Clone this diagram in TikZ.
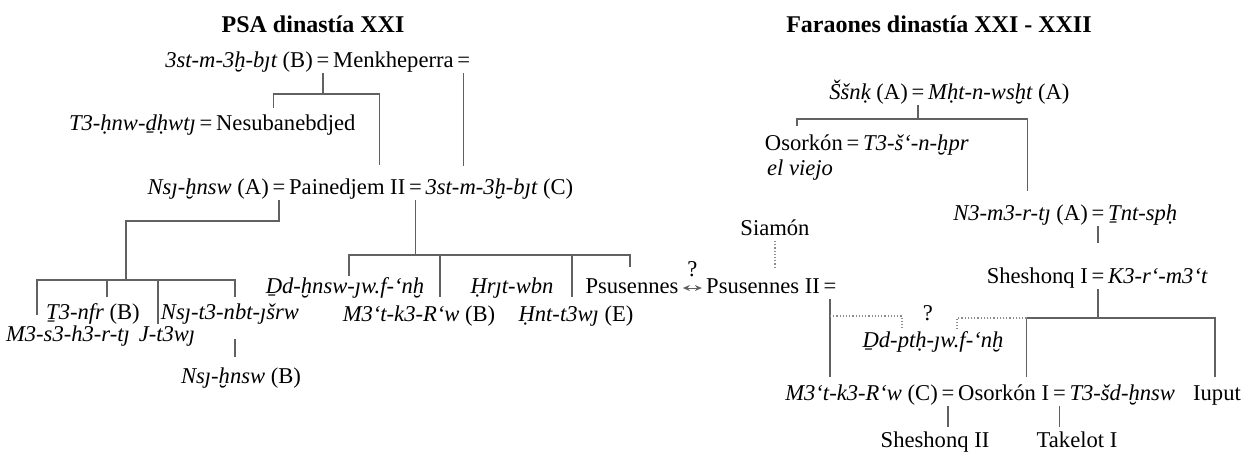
\documentclass[tikz,border=0pt]{standalone}
\usepackage{fontspec}
\setmainfont{Liberation Serif}
\usetikzlibrary{arrows.meta, positioning, calc}
\newcommand{\nmsize}{\fontsize{11.3}{13}\selectfont}
\newcommand{\trl}[1]{{\itshape #1}}
\tikzset{
  who/.style={inner sep=0pt, text height=8pt, text depth=2.5pt, font=\nmsize},
  eqn/.style={who},
  ttl/.style={inner sep=0pt, font=\fontsize{12}{14}\selectfont\bfseries},
  link/.style={draw=black!62, line width=0.6pt},
  dlink/.style={draw=black!45, line width=0.6pt, densely dotted},
  arr/.style={{Stealth[length=3.5pt,width=3pt]}-{Stealth[length=3.5pt,width=3pt]},
              draw=black!62, line width=0.5pt},
}
\begin{document}
\begin{tikzpicture}[x=0.5pt, y=-0.5pt, node distance=1.5pt]
  \useasboundingbox (0,0) rectangle (1252,452);
  %% PSA dinastia XXI
  \node[ttl] (tPSA) at (313,24) {PSA dinastía XXI};
  \node[eqn] (eqMk) at (323,62) {=};
  \node[who, left=of eqMk]  (astB)  {\trl{3st-m-3ḫ-bȷt} (B)};
  \node[who, right=of eqMk] (menk)  {Menkheperra};
  \node[eqn, right=of menk] (eqMk2) {=};
  \node[eqn] (eqNs) at (206,125) {=};
  \node[who, left=of eqNs]  (tahnw) {\trl{T3-ḥnw-ḏḥwtȷ}};
  \node[who, right=of eqNs] (nesu)  {Nesubanebdjed};
  \node[eqn] (eqPa) at (279,189) {=};
  \node[who, left=of eqPa]   (nsjA)  {\trl{Nsȷ-ḫnsw} (A)};
  \node[who, right=of eqPa]  (paine) {Painedjem II};
  \node[eqn, right=of paine] (eqPa2) {=};
  \node[who, right=of eqPa2] (astC)  {\trl{3st-m-3ḫ-bȷt} (C)};
  %% hijos de Nsj-hnsw (A)
  \node[who] (t3nfr) at (93,314)  {\trl{Ṯ3-nfr} (B)};
  \node[who] (m3s3)  at (68,336)  {\trl{M3-s3-h3-r-tȷ}};
  \node[who] (jt3)   at (167,336) {\trl{J-t3wȷ}};
  \node[who] (nsjt3) at (230,314) {\trl{Nsȷ-t3-nbt-ȷšrw}};
  \node[who] (nsB)   at (241,378) {\trl{Nsȷ-ḫnsw} (B)};
  %% hijos de 3st-m-3h-bjt (C)
  \node[who] (ddh)  at (345,288) {\trl{Ḏd-ḫnsw-ȷw.f-‘nḫ}};
  \node[who] (mktB) at (419,316) {\trl{M3‘t-k3-R‘w} (B)};
  \node[who] (hrjt) at (512,288) {\trl{Ḥrȷt-wbn}};
  \node[who] (hnt)  at (576,316) {\trl{Ḥnt-t3wȷ} (E)};
  \node[who] (psus) at (632,288) {Psusennes};
  \draw[link] (eqMk.south) -- ++(0,21) coordinate (jMk);
  \draw[link] (jMk) -| ($(nesu.north)+(-12,-6)$);
  \draw[link] (jMk) -| ($(paine.north)+(32,-13)$);
  \draw[link] (eqMk2.south) -- ($(eqMk2.south |- astC.north)+(0,-12)$);
  \draw[link] (eqPa.south) -- ++(0,21) -| ++(-153,59) coordinate (jPa);
  \foreach \k/\dx/\dy in {m3s3/-31/-10, t3nfr/14/-6, jt3/-9/-1, nsjt3/5/-6}
    \draw[link] (jPa) -| ($(\k.north)+(\dx,\dy)$);
  \draw[link] ($(nsjt3.south)+(5,14)$) -- ($(nsB.north)+(-6,-10)$);
  \draw[link] (eqPa2.south) -- ++(0,55) coordinate (jPa2);
  \foreach \k/\dx/\dy in {ddh/4/-1, mktB/21/-8, hnt/-4/-8, psus/-2/-10}
    \draw[link] (jPa2) -| ($(\k.north)+(\dx,\dy)$);
  %% Psusennes II y Siamon
  \node[eqn] (eqPs) at (830,288) {=};
  \node[who, left=of eqPs] (psus2) {Psusennes II};
  \node[who] (siam) at (775,230) {Siamón};
  \draw[arr, shorten <=2pt, shorten >=2pt] (psus) -- node[who, above=3pt] (qPs) {?} (psus2);
  \draw[dlink] (siam.south) -- ($(siam.south |- psus2.north)+(0,-8)$);
  %% Faraones dinastia XXI - XXII
  \node[ttl] (tFar) at (939,24) {Faraones dinastía XXI - XXII};
  \node[eqn] (eqSs) at (918,94) {=};
  \node[who, left=of eqSs]  (ssnk) {\trl{Ššnḳ} (A)};
  \node[who, right=of eqSs] (mht)  {\trl{Mḥt-n-wsḫt} (A)};
  \node[eqn] (eqOs) at (853,145) {=};
  \node[who, left=of eqOs]  (osok) {Osorkón};
  \node[who, right=of eqOs] (t3sn) {\trl{T3-š‘-n-ḫpr}};
  \node[who] (viejo) at (800,170) {\trl{el viejo}};
  \node[eqn] (eqNm) at (1098,215) {=};
  \node[who, left=of eqNm]  (nm3) {\trl{N3-m3-r-tȷ} (A)};
  \node[who, right=of eqNm] (tnt) {\trl{Ṯnt-spḥ}};
  \node[eqn] (eqSh) at (1098,278) {=};
  \node[who, left=of eqSh]  (shsh) {Sheshonq I};
  \node[who, right=of eqSh] (k3r)  {\trl{K3-r‘-m3‘t}};
  \node[who] (ddp) at (933,342) {\trl{Ḏd-ptḥ-ȷw.f-‘nḫ}};
  \node[who] (qDd) at (928,315) {?};
  \node[eqn] (eqO1) at (948,395) {=};
  \node[who, left=of eqO1]  (mktC) {\trl{M3‘t-k3-R‘w} (C)};
  \node[who, right=of eqO1] (osoI) {Osorkón I};
  \node[eqn, right=of osoI] (eqO2) {=};
  \node[who, right=of eqO2] (t3sd) {\trl{T3-šd-ḫnsw}};
  \node[who] (iuput) at (1217,395) {Iuput};
  \node[who] (sh2) at (935,442) {Sheshonq II};
  \node[who] (tak) at (1077,442) {Takelot I};
  \draw[link] (eqSs.south) -- ++(0,14) coordinate (jSs);
  \draw[link] (jSs) -| ($(osok.north)+(-7,-8)$);
  \draw[link] (jSs) -| ($(nm3.north)+(7,-13)$);
  \draw[link] (eqNm.south) -- ($(eqSh.north)+(0,-24)$);
  \draw[link] (eqSh.south) -- ++(0,29) coordinate (jSh);
  \draw[link] (jSh) -| coordinate (cSh) ($(osoI.north)+(23,-7)$);
  \draw[link] (jSh) -| ($(iuput.north)+(-2,-7)$);
  \draw[dlink] (cSh) -| ($(ddp.north)+(24,-1)$);
  \draw[link] (eqPs.south) -- ($(eqPs.south |- mktC.north)+(0,-7)$);
  \draw[dlink] ($(eqPs.south)+(0,17)$) -| ($(ddp.north)+(-31,-3)$);
  \draw[link] (eqO1.south) -- ($(eqO1.south |- sh2.north)+(0,-4)$);
  \draw[link] (eqO2.south) -- ($(eqO2.south |- tak.north)+(0,-4)$);
\end{tikzpicture}
\end{document}
